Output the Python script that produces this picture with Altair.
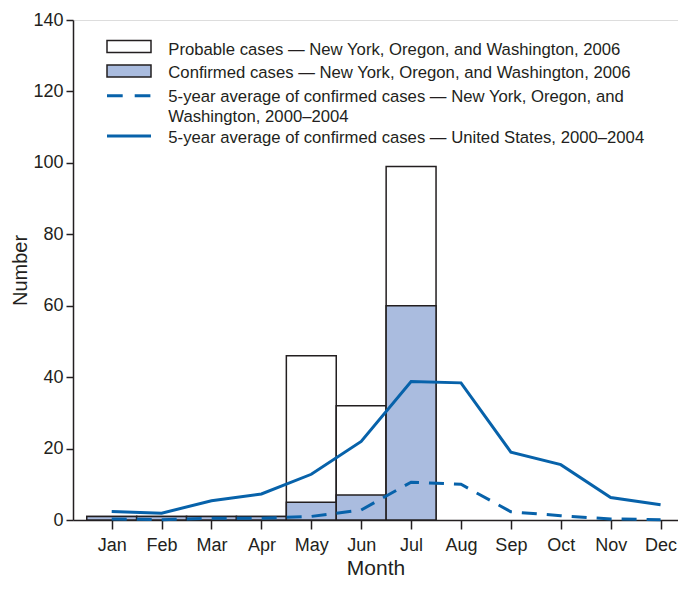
import altair as alt
import pandas as pd

months = ["Jan", "Feb", "Mar", "Apr", "May", "Jun", "Jul", "Aug", "Sep", "Oct", "Nov", "Dec"]
confirmed = [1, 1, 1, 1, 5, 7, 60, 0, 0, 0, 0, 0]
probable = [0, 0, 0, 0, 41, 25, 39, 0, 0, 0, 0, 0]
avg_ny_or_wa = [0.3, 0.1, 0.5, 0.5, 1.0, 2.8, 10.6, 10.0, 2.3, 1.2, 0.3, 0.1]
avg_us = [2.4, 1.9, 5.4, 7.3, 12.8, 22.0, 38.8, 38.4, 19.0, 15.5, 6.3, 4.3]
y_ticks = [0, 20, 40, 60, 80, 100, 120, 140]
legend_labels = [
    "Probable cases \u2014 New York, Oregon, and Washington, 2006",
    "Confirmed cases \u2014 New York, Oregon, and Washington, 2006",
    "5-year average of confirmed cases \u2014 New York, Oregon, and",
    "Washington, 2000\u20132004",
    "5-year average of confirmed cases \u2014 United States, 2000\u20132004",
]

INK = "#231f20"
BLUE = "#0762aa"
FILL = "#aabcdf"
FONT = "Liberation Sans"

df = pd.DataFrame({
    "m": list(range(1, 13)),
    "month": months,
    "confirmed": confirmed,
    "probable": probable,
    "nyorwa": avg_ny_or_wa,
    "us": avg_us,
})
df["total"] = df["confirmed"] + df["probable"]

xscale = alt.Scale(domain=[0.2244, 12.349], nice=False, zero=False)
yscale = alt.Scale(domain=[0, 140], nice=False)

label_expr = "[" + ",".join("'%s'" % m for m in months) + "][datum.value - 1]"

x_axis = alt.Axis(values=list(range(1, 13)), labelExpr=label_expr, title="Month",
                  grid=False, tickSize=9, labelPadding=7, titlePadding=3,
                  labelFontSize=18, titleFontSize=21, titleFontWeight="normal",
                  labelFont=FONT, titleFont=FONT, labelColor=INK, titleColor=INK,
                  domainColor=INK, tickColor=INK, domainWidth=1.5, tickWidth=1.5)
y_axis = alt.Axis(values=y_ticks, title="Number", grid=False, tickSize=7,
                  labelPadding=3, titlePadding=2,
                  labelFontSize=18, titleFontSize=20, titleFontWeight="normal",
                  labelFont=FONT, titleFont=FONT, labelColor=INK, titleColor=INK,
                  domainColor=INK, tickColor=INK, domainWidth=1.5, tickWidth=1.5)

base = alt.Chart(df)

total_bars = base.transform_filter("datum.total > 0").transform_calculate(
    x0="datum.m - 0.5", x1="datum.m + 0.5", zero="0"
).mark_rect(fill="white", stroke=INK, strokeWidth=1.5).encode(
    x=alt.X("x0:Q", scale=xscale, axis=x_axis),
    x2="x1:Q",
    y=alt.Y("total:Q", scale=yscale, axis=y_axis),
    y2="zero:Q",
)

conf_bars = base.transform_filter("datum.confirmed > 0").transform_calculate(
    x0="datum.m - 0.5", x1="datum.m + 0.5", zero="0"
).mark_rect(fill=FILL, stroke=INK, strokeWidth=1.5).encode(
    x=alt.X("x0:Q", scale=xscale, axis=x_axis),
    x2="x1:Q",
    y=alt.Y("confirmed:Q", scale=yscale, axis=y_axis),
    y2="zero:Q",
)

line_ny = base.mark_line(color=BLUE, strokeWidth=3, strokeDash=[15, 10]).encode(
    x=alt.X("m:Q", scale=xscale, axis=x_axis),
    y=alt.Y("nyorwa:Q", scale=yscale, axis=y_axis),
)

line_us = base.mark_line(color=BLUE, strokeWidth=3).encode(
    x=alt.X("m:Q", scale=xscale, axis=x_axis),
    y=alt.Y("us:Q", scale=yscale, axis=y_axis),
)

one = alt.Chart(pd.DataFrame({"k": [0]}))

leg_prob = one.mark_rect(fill="white", stroke=INK, strokeWidth=1.5).encode(
    x=alt.value(34), x2=alt.value(78), y=alt.value(20.5), y2=alt.value(32.5))
leg_conf = one.mark_rect(fill=FILL, stroke=INK, strokeWidth=1.5).encode(
    x=alt.value(34), x2=alt.value(78), y=alt.value(45), y2=alt.value(57))
leg_dash = one.mark_rule(color=BLUE, strokeWidth=3, strokeDash=[15.7, 12]).encode(
    x=alt.value(34), x2=alt.value(78), y=alt.value(75.7))
leg_solid = one.mark_rule(color=BLUE, strokeWidth=3).encode(
    x=alt.value(34), x2=alt.value(78), y=alt.value(116))

text_y = [35, 57.7, 81.7, 101.7, 123.3]
leg_texts = [
    one.mark_text(align="left", baseline="alphabetic", font=FONT, fontSize=16.7,
                  color=INK, text=lab).encode(x=alt.value(95.3), y=alt.value(ty))
    for lab, ty in zip(legend_labels, text_y)
]

chart = alt.layer(
    total_bars, conf_bars, line_ny, line_us,
    leg_prob, leg_conf, leg_dash, leg_solid, *leg_texts
).properties(
    width=605, height=500,
    autosize=alt.AutoSizeParams(type="none"),
    padding={"left": 65, "top": 12, "right": 0, "bottom": 58},
).configure_view(stroke=None).configure(background="white")

chart.save("out.html", embed_options={"renderer": "svg", "actions": False})
